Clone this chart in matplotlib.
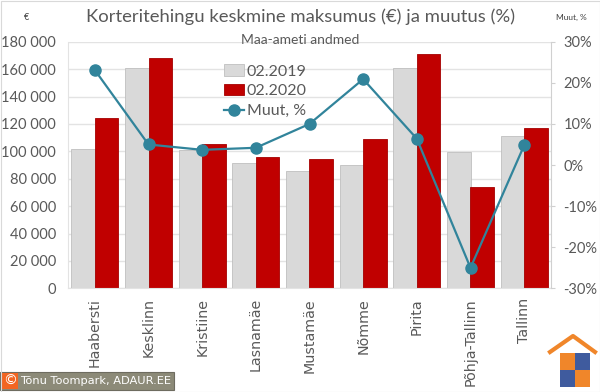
import matplotlib
matplotlib.use("Agg")
import matplotlib.pyplot as plt
from matplotlib.patches import Rectangle
from matplotlib.lines import Line2D
import numpy as np

plt.rcParams['font.family'] = ['Lato', 'DejaVu Sans']

categories = ["Haabersti", "Kesklinn", "Kristiine", "Lasnamäe", "Mustamäe",
              "Nõmme", "Pirita", "Põhja-Tallinn", "Tallinn"]
price_2019 = [101500, 161000, 101000, 91800, 85800, 90100, 161000, 99600, 111500]
price_2020 = [124500, 168300, 105300, 95800, 94300, 108900, 171000, 74300, 116700]
change_pct = [23.1, 5.0, 3.7, 4.2, 10.0, 20.9, 6.4, -25.0, 4.8]
left_ticks = [0, 20000, 40000, 60000, 80000, 100000, 120000, 140000, 160000, 180000]
right_ticks = [-30, -20, -10, 0, 10, 20, 30]

W, H = 600, 392
fig = plt.figure(figsize=(6, 3.92), dpi=100)
fig.patch.set_facecolor('white')

L, R, T, B = 68, 551, 41.7, 288.4
ax = fig.add_axes([L / W, 1 - B / H, (R - L) / W, (B - T) / H])
ax2 = ax.twinx()

x = np.arange(len(categories))
bw = 0.44
gray = '#d9d9d9'
red = '#c00000'
teal = '#31849b'
txt = '#595959'

b1 = ax.bar(x - bw / 2, price_2019, bw, color=gray, edgecolor='#bfbfbf', linewidth=0.6, label='02.2019', zorder=2)
b2 = ax.bar(x + bw / 2, price_2020, bw, color=red, edgecolor='#a50000', linewidth=0.6, label='02.2020', zorder=2)
ax.set_ylim(0, 180000)
ax.set_xlim(-0.5, len(categories) - 0.5)
ax.set_yticks(left_ticks)
ax.set_yticklabels([f"{v:,}".replace(",", " ") for v in left_ticks], fontsize=10.5, color=txt)
ax.yaxis.grid(True, color='#e3e3e3', linewidth=1, zorder=0)
ax.set_axisbelow(True)
ax.set_xticks(x)
ax.set_xticklabels(categories, rotation=90, fontsize=10.3, color=txt, family=['DejaVu Sans'])
ax.tick_params(axis='x', length=0, pad=7)
ax.tick_params(axis='y', length=0, pad=8.5)
for s in ['top', 'right']:
    ax.spines[s].set_visible(False)
ax.spines['left'].set_color('#e3e3e3')
ax.spines['bottom'].set_color('#e3e3e3')

ln, = ax2.plot(x, change_pct, color=teal, linewidth=1.6, marker='o', markersize=8,
               label='Muut, %', zorder=5)
ax2.set_ylim(-30, 30)
ax2.set_yticks(right_ticks)
ax2.set_yticklabels([f"{v}%" for v in right_ticks], fontsize=10.5, color=txt)
ax2.tick_params(axis='y', length=3, color='#d0d0d0', pad=6)
for s in ['top', 'left', 'bottom']:
    ax2.spines[s].set_visible(False)
ax2.spines['right'].set_color('#d0d0d0')

leg = ax.legend([b1, b2, ln], ['02.2019', '02.2020', 'Muut, %'],
                loc='upper left', bbox_to_anchor=((218 - L) / (R - L), (T - 58) / (B - T) + 1),
                frameon=False, fontsize=11.5, handlelength=1.2, handletextpad=0.2,
                labelspacing=0.35, borderaxespad=0)
for t in leg.get_texts():
    t.set_color(txt)

fig.text(301 / W, 1 - 17 / H, "Korteritehingu keskmine maksumus (€) ja muutus (%)",
         ha='center', va='center', fontsize=13.3, color=txt)
fig.text(300 / W, 1 - 40 / H, "Maa-ameti andmed", ha='center', va='center', fontsize=10, color=txt)
fig.text(27 / W, 1 - 17 / H, "€", ha='center', va='center', fontsize=6.5, color='#404040')
fig.text(571 / W, 1 - 17 / H, "Muut, %", ha='center', va='center', fontsize=6, color='#404040')

# copyright box
fig.patches.append(Rectangle((0, 1 - 390 / H), 174 / W, 18 / H, transform=fig.transFigure,
                             facecolor='#8c8a78', edgecolor='#6e6c60', linewidth=0.8))
fig.patches.append(Rectangle((2 / W, 1 - 389 / H), 16 / W, 16 / H, transform=fig.transFigure,
                             facecolor='#f26522', edgecolor='none'))
fig.text(10 / W, 1 - 381 / H, "©", ha='center', va='center', fontsize=10, color='white',
         family=['DejaVu Sans'])
ctext = fig.text(20 / W, 1 - 381 / H, "Tõnu Toompark, ADAUR.EE", ha='left', va='center',
                 fontsize=9.0, color='white', family=['DejaVu Sans'])
fig.canvas.draw()
wpx = ctext.get_window_extent(renderer=fig.canvas.get_renderer()).width
ctext.set_fontsize(9.0 * 151.0 / wpx)

# logo
def fx(px):
    return px / W

def fy(py):
    return 1 - py / H

orange = '#f0862a'
blue = '#3f5b9e'
roof = Line2D([fx(550), fx(573), fx(595)], [fy(352), fy(336), fy(352)], transform=fig.transFigure,
              color=orange, linewidth=3)
fig.lines.append(roof)
qs = [(560, 353, orange), (575, 353, blue), (560, 370, blue), (575, 370, orange)]
for (qx, qy, c) in qs:
    fig.patches.append(Rectangle((fx(qx), fy(qy + 17)), 15 / W, 17 / H, transform=fig.transFigure,
                                 facecolor=c, edgecolor='none'))

# figure border
fig.patches.append(Rectangle((0.5 / W, 0.5 / H), (W - 1) / W, (H - 1) / H, transform=fig.transFigure,
                             facecolor='none', edgecolor='#d9d9d9', linewidth=0.8))

fig.savefig("out.png", dpi=100)
